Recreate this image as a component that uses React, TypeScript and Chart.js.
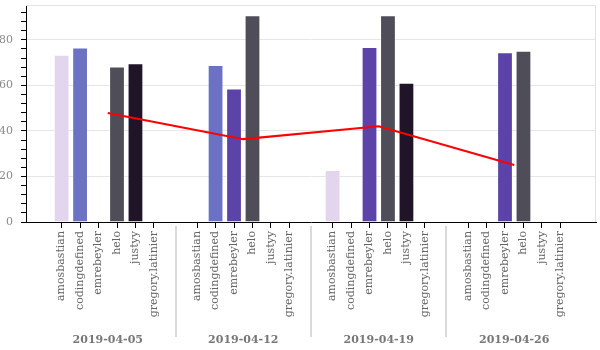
import React, { useEffect, useRef } from 'react';
import { Chart, registerables } from 'chart.js';

Chart.register(...registerables);

const dates = ['2019-04-05', '2019-04-12', '2019-04-19', '2019-04-26'];
const names = ['amosbastian', 'codingdefined', 'emrebeyler', 'helo', 'justyy', 'gregory.latinier'];
const nameColors = ['#e4d5ee', '#6b72c3', '#5b43a8', '#4f4e58', '#1f1428', '#999999'];

const amosbastian = [73.5, null, 22.8, null];
const codingdefined = [76.6, 69.0, null, null];
const emrebeyler = [null, 58.6, 76.8, 74.6];
const helo = [68.3, 90.8, 90.8, 75.2];
const justyy = [69.7, null, 61.2, null];
const gregoryLatinier = [null, null, null, null];
const averageScore = [47.9, 36.4, 42.0, 25.0];

const seriesByName = [amosbastian, codingdefined, emrebeyler, helo, justyy, gregoryLatinier];

const Y_MAX = 95.3;
const Y_STEP = 4;
const Y_LABEL_STEP = 20;

// layout of the grouped x axis (in slot units)
const GROUP_WIDTH = 7.34;
const X_MIN = -0.76;
const X_MAX = 30.12;

const FONT = "'DejaVu Serif', serif";

function posFor(g: number, i: number) {
  return g * GROUP_WIDTH + GROUP_WIDTH / 2 + (i - (names.length - 1) / 2);
}
function groupCenter(g: number) {
  return g * GROUP_WIDTH + GROUP_WIDTH / 2;
}

const groupPlugin = {
  id: 'groupPlugin',
  afterDraw(chart: any) {
    const { ctx, chartArea, scales } = chart;
    const x = scales.x;
    ctx.save();
    // frame top / right
    ctx.strokeStyle = '#e2e2e2';
    ctx.lineWidth = 1;
    ctx.beginPath();
    ctx.moveTo(chartArea.left, chartArea.top + 0.5);
    ctx.lineTo(chartArea.right - 0.5, chartArea.top + 0.5);
    ctx.lineTo(chartArea.right - 0.5, chartArea.bottom);
    ctx.stroke();
    // separators
    ctx.strokeStyle = '#dadada';
    ctx.lineWidth = 2;
    for (let g = 1; g < dates.length; g++) {
      const px = Math.round(x.getPixelForValue(g * GROUP_WIDTH));
      ctx.beginPath();
      ctx.moveTo(px, chartArea.bottom + 4);
      ctx.lineTo(px, chart.height - 13);
      ctx.stroke();
    }
    // group labels
    ctx.fillStyle = '#777777';
    ctx.font = "bold 11px " + FONT;
    ctx.textAlign = 'center';
    ctx.textBaseline = 'middle';
    dates.forEach((d, g) => {
      ctx.fillText(d, x.getPixelForValue(groupCenter(g)), 340);
    });
    ctx.restore();
  },
};

export default function App() {
  const ref = useRef<HTMLCanvasElement>(null);

  useEffect(() => {
    if (!ref.current) return;
    Chart.defaults.font.family = FONT;
    const tickPositions: number[] = [];
    dates.forEach((_, g) => names.forEach((__, i) => tickPositions.push(posFor(g, i))));

    const barSets = names.map((n, i) => ({
      type: 'bar' as const,
      label: n,
      data: seriesByName[i]
        .map((v, g) => ({ x: posFor(g, i), y: v }))
        .filter((p) => p.y !== null),
      backgroundColor: nameColors[i],
      borderColor: 'rgba(255,255,255,0.4)',
      borderWidth: 1,
      grouped: false,
      barPercentage: 0.95,
      categoryPercentage: 0.9,
      order: 1,
    }));

    const lineSet = {
      type: 'line' as const,
      label: 'average',
      data: averageScore.map((v, g) => ({ x: groupCenter(g), y: v })),
      borderColor: '#ff0000',
      borderWidth: 2,
      pointRadius: 0,
      fill: false,
      tension: 0,
      order: 0,
    };

    const chart = new Chart(ref.current, {
      type: 'bar',
      data: { datasets: [...barSets, lineSet] as any },
      options: {
        responsive: false,
        animation: false,
        layout: { padding: { top: 5, right: 4, left: 0, bottom: 0 } },
        plugins: { legend: { display: false }, tooltip: { enabled: false } },
        scales: {
          x: {
            type: 'linear',
            min: X_MIN,
            max: X_MAX,
            offset: false,
            afterBuildTicks: (scale: any) => {
              scale.ticks = tickPositions.map((v) => ({ value: v }));
            },
            afterFit: (scale: any) => {
              scale.height = 128;
              scale.paddingLeft = 0;
              scale.paddingRight = 0;
            },
            ticks: {
              autoSkip: false,
              minRotation: 90,
              maxRotation: 90,
              padding: 3,
              color: '#666666',
              font: { family: FONT, size: 11 },
              callback: (_v: any, idx: number) => names[idx % names.length],
            },
            grid: {
              offset: false,
              drawOnChartArea: false,
              drawTicks: true,
              tickLength: 6,
              tickColor: '#000000',
            },
            border: { color: '#000000', width: 1 },
          },
          y: {
            min: 0,
            max: Y_MAX,
            afterFit: (scale: any) => {
              scale.width = 26;
              scale.paddingTop = 0;
              scale.paddingBottom = 0;
            },
            ticks: {
              stepSize: Y_STEP,
              includeBounds: false,
              autoSkip: false,
              padding: 8,
              color: '#8a8a8a',
              font: { family: FONT, size: 11 },
              callback: (v: any) => (Number(v) % Y_LABEL_STEP === 0 ? String(v) : ''),
            },
            grid: {
              color: (c: any) =>
                c.tick && c.tick.value % Y_LABEL_STEP === 0 && c.tick.value !== 0 ? '#e6e6e6' : 'rgba(0,0,0,0)',
              tickColor: '#000000',
              tickLength: 5,
            },
            border: { color: '#000000', width: 1 },
          },
        },
      },
      plugins: [groupPlugin],
    });
    return () => chart.destroy();
  }, []);

  return (
    <div style={{ position: 'absolute', left: 0, top: 0, width: 600, height: 350, background: '#fff' }}>
      <canvas ref={ref} width={600} height={350} style={{ display: 'block' }} />
    </div>
  );
}
